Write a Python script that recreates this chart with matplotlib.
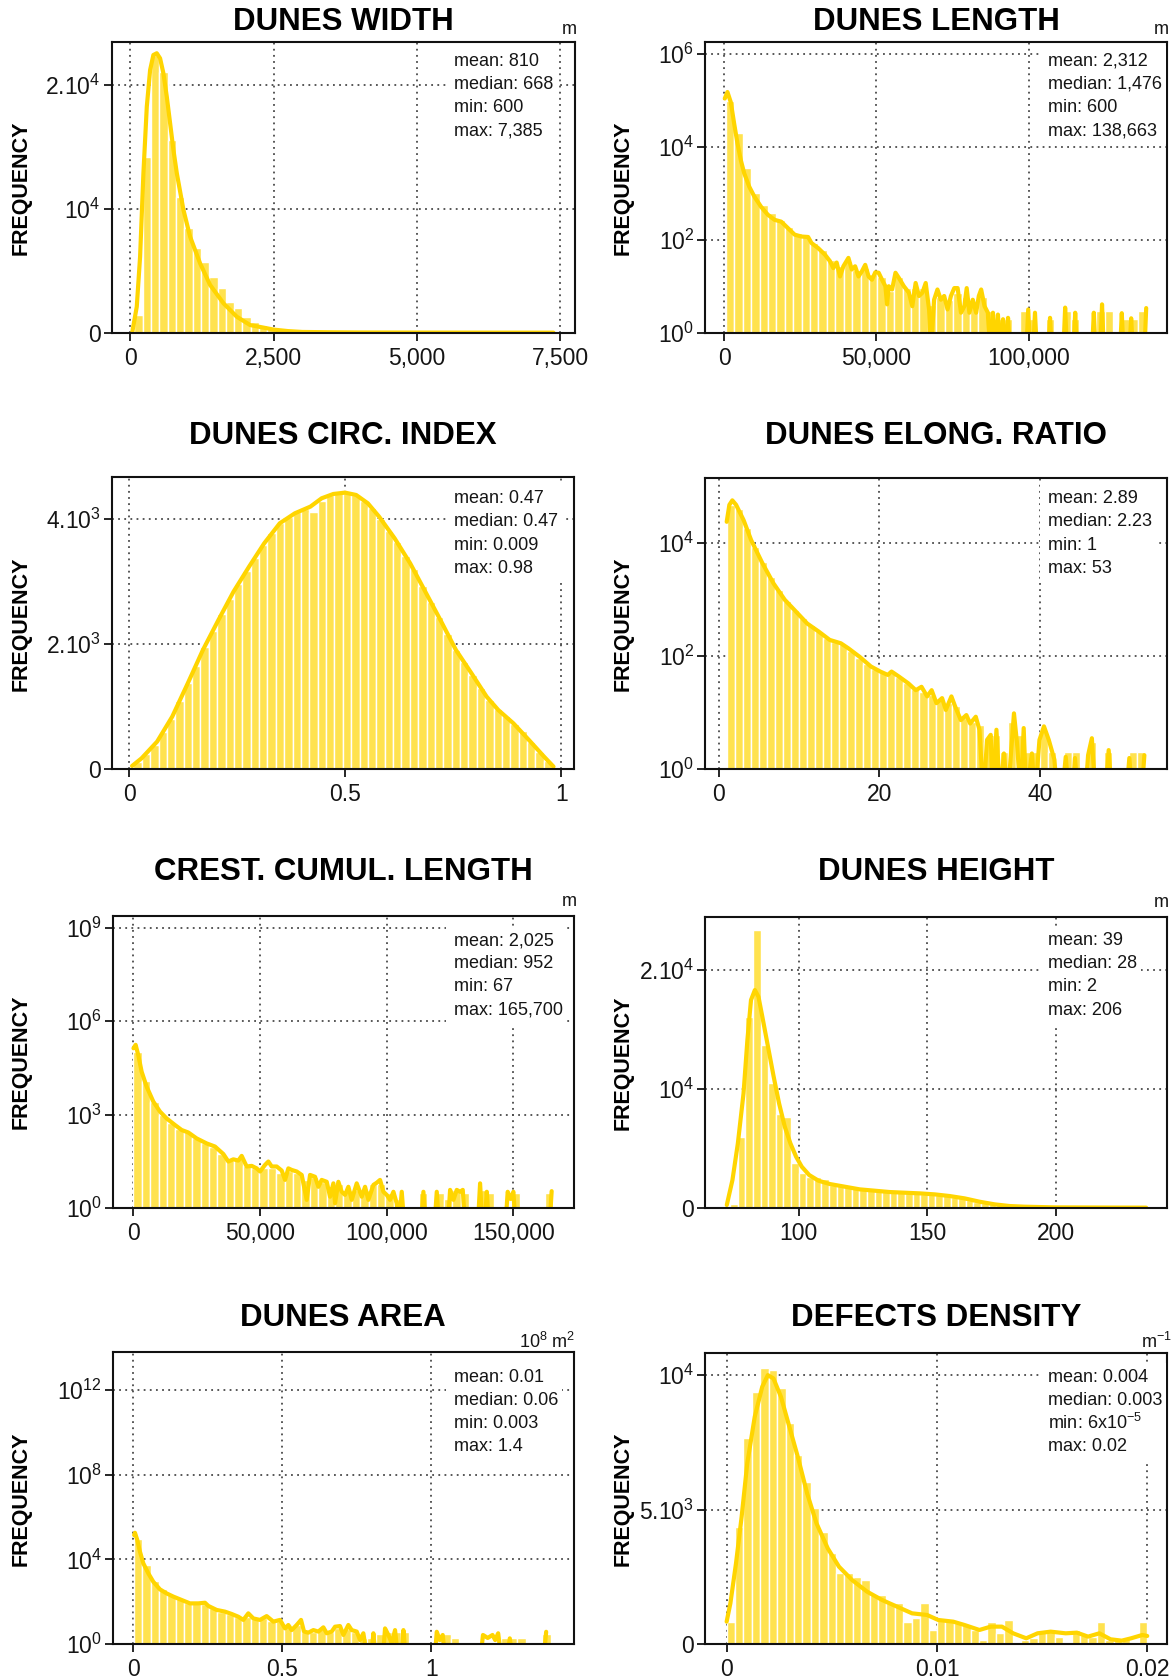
import numpy as np
import matplotlib
matplotlib.use("Agg")
import matplotlib.pyplot as plt
from matplotlib.patches import Rectangle
from matplotlib.ticker import NullLocator

plt.rcParams['font.family'] = ['Liberation Sans', 'DejaVu Sans']
plt.rcParams['mathtext.fontset'] = 'custom'
plt.rcParams['mathtext.rm'] = 'Liberation Sans'
plt.rcParams['mathtext.it'] = 'Liberation Sans:italic'
plt.rcParams['mathtext.bf'] = 'Liberation Sans:bold'

# ---------------- DATA ----------------
# 1. Dunes width (linear)
width_bin_start, width_bin_width = 71, 145
width_counts = [1400, 14230, 22450, 21100, 15580, 11000, 8440, 6820, 5740, 4530,
                3590, 2510, 1970, 1290, 890, 620, 400, 250, 160, 100,
                60, 40, 30, 20, 15, 10, 8, 6, 5, 4, 3, 3, 2, 2, 2, 1, 1, 1, 1, 1,
                1, 1, 1, 0, 1, 0, 1, 0, 0, 0, 1]
width_kde = [(31, 0), (111, 2100), (169, 6140), (227, 12890), (286, 18270), (344, 21240),
             (401, 22450), (460, 22590), (518, 22180), (576, 20970), (635, 19080),
             (693, 16930), (751, 14770), (810, 12890), (926, 9920), (1042, 7760),
             (1216, 5610), (1391, 3860), (1624, 2380), (1857, 1290), (2089, 620),
             (2380, 360), (2500, 250), (2750, 130), (3000, 60), (3500, 35), (4000, 20),
             (5000, 12), (6000, 8), (7385, 5)]

# 2. Dunes length (log)
length_bin_start, length_bin_width = 600, 2761
length_counts = [97000, 20000, 3500, 1000, 560, 370, 270, 190, 140, 118,
                 85, 61, 37, 27, 35, 22, 25, 18, 16, 8,
                 16, 9, 9, 9, 4, 6, 5, 7, 6, 4,
                 6, 3, 2, 2, 1, 3, 2, 0, 2, 0,
                 3, 2, 0, 0, 3, 3, 0, 2, 2, 3]
length_kde_log10 = [(220, 5.04), (1100, 5.18), (2200, 4.96), (3300, 4.5), (4400, 4.07), (5500, 3.71),
                    (6600, 3.43), (8270, 3.14), (9920, 2.93), (12130, 2.71), (14330, 2.54),
                    (16540, 2.43), (18740, 2.39), (20950, 2.25), (23150, 2.11), (25360, 2.07),
                    (27560, 2.06), (28670, 1.93), (30870, 1.82), (33080, 1.68), (34730, 1.54),
                    (35830, 1.39), (36930, 1.51), (38030, 1.21), (39140, 1.43), (40790, 1.61),
                    (41890, 1.36), (42990, 1.43), (44100, 1.21), (45200, 1.32), (46300, 1.46),
                    (47410, 1.21), (48510, 1.14), (49610, 1.30), (50715, 1.29), (51820, 1.14),
                    (52920, 1.0), (53470, 0.61), (54020, 1.0), (55120, 0.93), (56230, 1.29),
                    (57330, 1.18), (58980, 1.0), (60640, 0.86), (61740, 0.57), (62840, 1.07),
                    (63940, 0.79), (65050, 0.86), (66150, 1.07), (67250, 0.5), (67800, -0.5),
                    (68900, 0.71), (70000, 0.93), (71110, 0.71), (72210, 0.79), (73310, 0.5),
                    (74420, 0.79), (75520, 0.96), (76620, 0.96), (77730, 0.43), (78830, 0.57),
                    (79600, 0.96), (80480, 0.43), (81590, 0.71), (82690, 0.43), (83570, 0.79),
                    (84340, 0.93), (85450, 0.57), (86550, 0.43), (87100, -0.5), (88200, 0.43),
                    (89300, -0.5), (89850, 0.39), (90630, -0.5), (91510, 0.29), (92610, -0.5),
                    (93160, 0.32), (93930, -0.5), (99100, -0.5), (99780, 0.5), (100500, -0.5),
                    (101300, -0.5), (102000, 0.43), (102700, -0.5), (106300, -0.5), (106940, 0.32),
                    (107600, -0.5), (111250, -0.5), (111900, 0.54), (112550, -0.5), (114550, -0.5),
                    (115200, 0.43), (115850, -0.5), (120650, -0.5), (121300, 0.43), (121950, -0.5),
                    (123350, -0.5), (124000, 0.61), (124650, -0.5), (129850, -0.5), (130480, 0.42),
                    (131100, -0.5), (132900, -0.5), (133560, 0.31), (134200, -0.5), (137850, -0.5),
                    (138490, 0.53)]

# 3. Dunes circularity index (linear)
circ_bin_start, circ_bin_width = 0.009, 0.0194
circ_counts = [110, 240, 390, 590, 810, 1090, 1376, 1650, 1960, 2220,
               2480, 2720, 2960, 3170, 3380, 3590, 3780, 3940, 4030, 4110,
               4160, 4120, 4300, 4390, 4420, 4430, 4390, 4300, 4180, 4010,
               3820, 3640, 3410, 3200, 2930, 2680, 2430, 2170, 1910, 1710,
               1510, 1300, 1110, 960, 850, 720, 610, 430, 280, 130]
circ_kde = [(0.006, 53), (0.028, 176), (0.064, 443), (0.099, 843), (0.135, 1376), (0.170, 1909),
            (0.206, 2389), (0.241, 2843), (0.277, 3243), (0.312, 3616), (0.348, 3936),
            (0.383, 4096), (0.419, 4203), (0.445, 4336), (0.472, 4405), (0.499, 4427),
            (0.525, 4389), (0.552, 4256), (0.578, 4043), (0.614, 3696), (0.650, 3296),
            (0.685, 2843), (0.720, 2389), (0.756, 1909), (0.792, 1536), (0.827, 1163),
            (0.854, 949), (0.889, 736), (0.925, 469), (0.960, 203), (0.982, 43)]

# 4. Dunes elongation ratio (log)
elong_bin_start, elong_bin_width = 1, 1
elong_counts = [48000, 40000, 19000, 8500, 4600, 2500, 1500, 950, 660, 480,
                360, 280, 215, 180, 165, 125, 95, 72, 59, 52,
                50, 43, 34, 26, 23, 21, 17, 15, 13, 8,
                7, 6, 3, 4, 2, 7, 4, 2, 2, 5,
                2, 1, 2, 2, 1, 3, 1, 2, 1, 1, 2, 2]
elong_kde_log10 = [(1.02, 4.38), (1.35, 4.68), (1.72, 4.76), (2.19, 4.68), (3.12, 4.41), (4.05, 4.06),
                   (5.45, 3.65), (6.84, 3.29), (8.24, 3.0), (9.64, 2.79), (11.03, 2.58),
                   (12.44, 2.44), (13.83, 2.29), (15.22, 2.23), (16.16, 2.14), (17.56, 1.99),
                   (18.95, 1.82), (20.12, 1.73), (21.06, 1.67), (21.52, 1.73), (22.45, 1.64),
                   (23.62, 1.52), (24.54, 1.40), (25.25, 1.46), (25.95, 1.29), (26.51, 1.40),
                   (27.11, 1.17), (27.81, 1.26), (28.27, 1.05), (28.97, 1.29), (29.44, 1.11),
                   (30.14, 0.87), (30.83, 0.96), (31.3, 0.81), (32.0, 0.93), (32.46, 0.70),
                   (32.94, -0.5), (33.4, 0.52), (33.86, 0.61), (34.1, -0.5), (34.57, 0.70),
                   (35.03, -0.5), (35.5, 0.28), (35.97, -0.5), (36.75, 0.99), (37.13, 0.46),
                   (37.59, -0.5), (37.96, 0.73), (38.28, -0.5), (38.98, 0.28), (39.37, -0.5),
                   (39.92, 0.52), (40.48, 0.76), (41.08, 0.52), (41.78, 0.17), (42.16, -0.5),
                   (42.7, -0.5), (43.19, 0.22), (43.6, -0.5), (44.0, -0.5), (44.34, 0.2),
                   (44.7, -0.5), (45.6, -0.5), (45.97, 0.25), (46.44, 0.55), (46.9, -0.5),
                   (48.1, -0.5), (48.53, 0.34), (48.95, -0.5), (50.7, -0.5), (51.1, 0.2),
                   (51.5, -0.5), (52.6, -0.5), (52.97, 0.25)]

# 5. Crest cumulative length (log)
crest_bin_start, crest_bin_width = 67, 3313
crest_counts = [100000, 12000, 2600, 1000, 560, 355, 270, 178, 126, 95,
                56, 35, 40, 22, 19, 20, 20, 14, 16, 14,
                8, 10, 7, 5, 6, 4, 4, 4, 6, 6,
                3, 2, 1, 1, 3, 1, 3, 2, 4, 3,
                1, 4, 3, 1, 1, 3, 1, 1, 1, 3]
crest_kde_log10 = [(67, 5.13), (920, 5.24), (1970, 4.91), (3290, 4.38), (5260, 3.90), (7900, 3.42),
                   (10530, 3.10), (13160, 2.88), (16450, 2.67), (19080, 2.51), (21710, 2.43),
                   (25000, 2.24), (28950, 2.08), (32240, 1.98), (35530, 1.74), (37500, 1.50),
                   (39480, 1.57), (41450, 1.53), (42770, 1.68), (44740, 1.34), (46720, 1.36),
                   (48690, 1.28), (50010, 1.18), (51980, 1.39), (53300, 1.50), (54620, 1.34),
                   (56590, 1.34), (58560, 1.21), (59880, 0.91), (61190, 1.28), (62510, 1.23),
                   (64480, 1.18), (66460, 1.07), (68430, 0.27), (69750, 1.07), (71720, 1.01),
                   (73040, 0.69), (74350, 0.91), (76330, 0.85), (77640, 0.37), (78960, 0.80),
                   (79620, 0.16), (80930, 0.85), (82250, 0.53), (83570, 0.43), (84880, 0.69),
                   (86200, 0.27), (88170, 0.80), (90150, 0.37), (91460, 0.69), (92780, 0.27),
                   (94750, 0.75), (96070, 0.82), (97380, 0.91), (98700, 0.53), (100000, 0.43),
                   (101330, 0.27), (102650, 0.53), (103960, 0.16), (104900, -0.5), (105940, 0.53),
                   (106900, -0.5), (113600, -0.5), (114490, 0.53), (115400, -0.5), (118900, -0.5),
                   (119760, 0.53), (120600, -0.5), (124200, -0.5), (125020, 0.59), (126340, 0.27),
                   (127650, 0.59), (128970, 0.53), (130020, 0.59), (130900, -0.5), (136000, -0.5),
                   (136860, 0.80), (137700, -0.5), (138700, -0.5), (139500, 0.53), (140300, -0.5),
                   (146900, -0.5), (147750, 0.53), (148900, 0.3), (150000, 0.53), (150800, -0.5),
                   (164300, -0.5), (165100, 0.55)]

# 6. Dunes height (linear)
height_bin_start, height_bin_width = 73.45, 2.95
height_counts = [300, 5966, 16050, 23330, 13670, 10500, 7870, 7590, 3780, 2885,
                 2600, 2550, 2380, 1900, 1820, 1765, 1710, 1540, 1480, 1430,
                 1480, 1320, 1340, 1260, 1200, 1150, 1120, 1060, 1060, 920,
                 780, 640, 500, 360, 280, 200, 140, 110, 85, 60,
                 45, 35, 28, 22, 18, 15, 12, 10, 8, 7, 6, 5, 5, 4, 3]
height_kde = [(72.1, 224), (74.3, 2325), (76.4, 5406), (78.6, 9607), (80.1, 14090), (81.5, 17450),
              (83.0, 18290), (84.4, 17730), (85.9, 16050), (88.1, 13530), (90.3, 11010),
              (92.4, 8767), (94.6, 6806), (96.8, 5406), (99.0, 4286), (101.2, 3445),
              (104.1, 2745), (107.7, 2269), (112.1, 1989), (117.9, 1765), (123.7, 1541),
              (129.5, 1429), (135.3, 1317), (141.1, 1260), (147.0, 1204), (152.8, 1120),
              (158.6, 980), (164.4, 784), (170.2, 504), (176.1, 280), (181.9, 140),
              (187.7, 84), (199.3, 28), (222.6, 10), (234.9, 5)]

# 7. Dunes area (log)
area_bin_start, area_bin_width = 0.003, 0.02794
area_counts = [89000, 5600, 1000, 400, 214, 141, 93, 85, 79, 50,
               35, 28, 20, 20, 16, 18, 13, 13, 7, 8,
               4, 4, 5, 4, 6, 5, 4, 2, 2, 3,
               4, 4, 4, 1, 1, 1, 1, 3, 2, 1,
               1, 1, 1, 1, 2, 2, 2, 1, 1, 3]
area_kde_log10 = [(0.003, 5.15), (0.0056, 5.26), (0.0134, 4.92), (0.0224, 4.37), (0.0336, 3.82),
                  (0.0503, 3.35), (0.0671, 2.95), (0.0895, 2.59), (0.1119, 2.40), (0.1342, 2.25),
                  (0.1622, 2.09), (0.1902, 1.93), (0.2181, 1.93), (0.2405, 1.96), (0.2517, 1.81),
                  (0.2797, 1.62), (0.3076, 1.54), (0.3300, 1.43), (0.3524, 1.30), (0.3691, 1.15),
                  (0.3859, 1.46), (0.4027, 1.22), (0.4251, 1.15), (0.4474, 1.33), (0.4698, 1.07),
                  (0.4922, 1.15), (0.5090, 0.75), (0.5201, 0.91), (0.5313, 0.67), (0.5481, 0.91),
                  (0.5627, 1.15), (0.5727, 0.60), (0.5873, 0.55), (0.6040, 0.67), (0.6208, 0.60),
                  (0.6376, 0.80), (0.6488, 0.52), (0.6656, 0.60), (0.6768, 0.83), (0.6935, 0.86),
                  (0.7047, 0.44), (0.7215, 0.91), (0.7327, 0.67), (0.7495, 0.60), (0.7606, 0.20),
                  (0.7718, 0.52), (0.7830, -0.5), (0.7990, -0.5), (0.8054, 0.52), (0.8120, -0.5),
                  (0.8380, -0.5), (0.8445, 0.75), (0.8557, 0.44), (0.8669, 0.05), (0.8781, 0.67),
                  (0.8870, -0.5), (0.9000, -0.5), (0.9061, 0.67), (0.9130, -0.5), (1.0120, -0.5),
                  (1.0180, 0.59), (1.0280, 0.2), (1.0380, 0.44), (1.0450, -0.5), (1.1660, -0.5),
                  (1.1730, 0.44), (1.1890, 0.3), (1.2050, 0.44), (1.2140, 0.2), (1.2240, 0.52),
                  (1.2330, -0.5), (1.2560, -0.5), (1.2630, 0.28), (1.2700, -0.5), (1.3780, -0.5),
                  (1.3850, 0.59)]

# 8. Defects density (linear)
defects_bin_start, defects_bin_width = 0.0, 0.0004
defects_counts = [841, 4367, 7645, 9376, 10242, 10181, 9500, 8201, 7026, 6037,
                  5047, 4181, 3377, 2635, 2635, 2511, 2387, 1831, 1831, 1522,
                  1522, 841, 965, 1522, 532, 903, 903, 779, 717, 532,
                  161, 841, 408, 903, 37, 161, 223, 470, 470, 285,
                  99, 532, 346, 285, 841, 161, 223, 223, 99, 841]
defects_kde = [(0.0, 841), (0.000178, 1522), (0.000445, 3006), (0.000713, 4738), (0.000980, 6717),
               (0.001336, 8449), (0.001692, 9562), (0.001959, 9995), (0.002226, 9871),
               (0.002582, 9191), (0.002938, 8201), (0.003383, 6964), (0.003828, 5604),
               (0.004273, 4490), (0.004807, 3563), (0.005342, 2882), (0.005966, 2387),
               (0.006680, 1954), (0.007391, 1645), (0.008103, 1398), (0.008816, 1150),
               (0.009529, 1089), (0.010062, 903), (0.010775, 841), (0.011308, 717),
               (0.012021, 532), (0.012555, 656), (0.013091, 656), (0.013623, 408),
               (0.014246, 223), (0.014784, 408), (0.015407, 470), (0.016120, 408),
               (0.016653, 433), (0.017185, 285), (0.017722, 408), (0.018255, 186),
               (0.018788, 136), (0.019234, 223), (0.019767, 346), (0.020000, 309)]

titles = ["DUNES WIDTH", "DUNES LENGTH", "DUNES CIRC. INDEX", "DUNES ELONG. RATIO",
          "CREST. CUMUL. LENGTH", "DUNES HEIGHT", "DUNES AREA", "DEFECTS DENSITY"]
units = ["m", "m", "", "", "m", "m", r"$\mathregular{10^8\ m^2}$", r"$\mathregular{m^{-1}}$"]
stats = [
    ["mean: 810", "median: 668", "min: 600", "max: 7,385"],
    ["mean: 2,312", "median: 1,476", "min: 600", "max: 138,663"],
    ["mean: 0.47", "median: 0.47", "min: 0.009", "max: 0.98"],
    ["mean: 2.89", "median: 2.23", "min: 1", "max: 53"],
    ["mean: 2,025", "median: 952", "min: 67", "max: 165,700"],
    ["mean: 39", "median: 28", "min: 2", "max: 206"],
    ["mean: 0.01", "median: 0.06", "min: 0.003", "max: 1.4"],
    ["mean: 0.004", "median: 0.003", r"min: $\mathregular{6x10^{-5}}$", "max: 0.02"],
]
xticks = [[0, 2500, 5000, 7500], [0, 50000, 100000], [0, 0.5, 1], [0, 20, 40],
          [0, 50000, 100000, 150000], [100, 150, 200], [0, 0.5, 1], [0, 0.01, 0.02]]
xticklabels = [["0", "2,500", "5,000", "7,500"], ["0", "50,000", "100,000"], ["0", "0.5", "1"],
               ["0", "20", "40"], ["0", "50,000", "100,000", "150,000"], ["100", "150", "200"],
               ["0", "0.5", "1"], ["0", "0.01", "0.02"]]
yticks = [[0, 1e4, 2e4], [1, 1e2, 1e4, 1e6], [0, 2e3, 4e3], [1, 1e2, 1e4],
          [1, 1e3, 1e6, 1e9], [0, 1e4, 2e4], [1, 1e4, 1e8, 1e12], [0, 5e3, 1e4]]
yticklabels = [["0", r"$\mathregular{10^4}$", r"$\mathregular{2.10^4}$"],
               [r"$\mathregular{10^0}$", r"$\mathregular{10^2}$", r"$\mathregular{10^4}$", r"$\mathregular{10^6}$"],
               ["0", r"$\mathregular{2.10^3}$", r"$\mathregular{4.10^3}$"],
               [r"$\mathregular{10^0}$", r"$\mathregular{10^2}$", r"$\mathregular{10^4}$"],
               [r"$\mathregular{10^0}$", r"$\mathregular{10^3}$", r"$\mathregular{10^6}$", r"$\mathregular{10^9}$"],
               ["0", r"$\mathregular{10^4}$", r"$\mathregular{2.10^4}$"],
               [r"$\mathregular{10^0}$", r"$\mathregular{10^4}$", r"$\mathregular{10^8}$", r"$\mathregular{10^{12}}$"],
               ["0", r"$\mathregular{5.10^3}$", r"$\mathregular{10^4}$"]]

# ---------------- LAYOUT / STYLE ----------------
W, H = 1176, 1678
BAR = "#FFE24F"
LINE = "#FFD500"
GRID = "#4a4a4a"
TXT = "#151515"

fig = plt.figure(figsize=(W / 100, H / 100), dpi=100)
fig.patch.set_facecolor("white")

boxes = [(111.5, 42.3, 575.0, 332.7), (705.4, 42.3, 1166.8, 332.7),
         (112.3, 477.3, 573.6, 769.3), (705.4, 478.3, 1166.8, 769.3),
         (113.0, 916.0, 573.6, 1208.3), (705.4, 917.3, 1166.8, 1207.7),
         (113.0, 1352.3, 573.6, 1644.3), (705.4, 1352.7, 1166.8, 1644.3)]
xlims = [(-330, 7760), (-6135, 145250), (-0.0398, 1.0285), (-1.63, 55.76),
         (-8011, 173760), (63.8, 242.9), (-0.068, 1.477), (-0.00101, 0.02093)]
ylims = [(0, 23476), (1, 10 ** 6.25), (0, 4672), (1, 10 ** 5.15),
         (1, 10 ** 9.37), (0, 24403), (1, 10 ** 13.77), (0, 10828)]
title_y = [21.7, 21.7, 436, 436, 872.5, 872.5, 1317.5, 1317.5]
stats_x = [454, 1047.7] * 4
stats_y0 = [61.0, 61.0, 498.6, 498.6, 940.5, 940.5, 1377.0, 1377.0]
stats_pitch = 23.2
unit_pos = [(569, 29.3, 'center'), (1161, 29.3, 'center'), None, None,
            (569, 901.7, 'center'), (1161, 902.7, 'center'),
            (575, 1341.7, 'right'), (1172, 1341.7, 'right')]
freq_x = [21, 623]

panels = [
    (width_bin_start, width_bin_width, width_counts, width_kde, False),
    (length_bin_start, length_bin_width, length_counts, length_kde_log10, True),
    (circ_bin_start, circ_bin_width, circ_counts, circ_kde, False),
    (elong_bin_start, elong_bin_width, elong_counts, elong_kde_log10, True),
    (crest_bin_start, crest_bin_width, crest_counts, crest_kde_log10, True),
    (height_bin_start, height_bin_width, height_counts, height_kde, False),
    (area_bin_start, area_bin_width, area_counts, area_kde_log10, True),
    (defects_bin_start, defects_bin_width, defects_counts, defects_kde, False),
]


def fx(px):
    return px / W


def fy(py):
    return 1 - py / H


axes_list = []
stat_texts = []
for i, (start, bw, counts, kde, is_log) in enumerate(panels):
    l, t, r, b = boxes[i]
    ax = fig.add_axes([fx(l), fy(b), (r - l) / W, (b - t) / H])
    axes_list.append(ax)
    counts = np.asarray(counts, dtype=float)
    lefts = start + bw * np.arange(len(counts))
    kx = np.array([p[0] for p in kde], dtype=float)
    ky = np.array([p[1] for p in kde], dtype=float)
    if is_log:
        ax.set_yscale('log')
        base = 1e-3
        ax.bar(lefts, np.maximum(counts - base, 0), width=bw, bottom=base, align='edge',
               color=BAR, edgecolor='white', linewidth=1.0, zorder=1)
        ax.plot(kx, 10 ** ky, color=LINE, linewidth=3.0, solid_joinstyle='round',
                solid_capstyle='round', zorder=2)
        ax.yaxis.set_minor_locator(NullLocator())
    else:
        ax.bar(lefts, counts, width=bw, align='edge', color=BAR, edgecolor='white',
               linewidth=1.0, zorder=1)
        ax.plot(kx, ky, color=LINE, linewidth=3.0, solid_joinstyle='round',
                solid_capstyle='round', zorder=2)
    ax.set_xlim(*xlims[i])
    ax.set_ylim(*ylims[i])
    ax.set_xticks(xticks[i])
    ax.set_xticklabels(xticklabels[i])
    ax.set_yticks(yticks[i])
    ax.set_yticklabels(yticklabels[i])
    ax.xaxis.set_minor_locator(NullLocator())
    ax.grid(True, which='major', color=GRID, linestyle=(0, (1, 2.4)), linewidth=1.3)
    ax.set_axisbelow(True)
    for sp in ax.spines.values():
        sp.set_linewidth(1.5)
        sp.set_color('#111111')
    ax.tick_params(axis='both', which='major', direction='out', length=6, width=1.3,
                   labelsize=16.5, colors=TXT)
    ax.tick_params(axis='y', pad=2)
    ax.tick_params(axis='x', pad=4)

    # title
    fig.text(fx((l + r) / 2), fy(title_y[i]), titles[i], ha='center', va='center',
             fontsize=22.5, fontweight='bold', color='black')
    # frequency label
    fig.text(fx(freq_x[i % 2]), fy((t + b) / 2), "FREQUENCY", rotation=90, ha='center',
             va='center', fontsize=15.5, fontweight='bold', color='black')
    # unit
    if unit_pos[i] is not None:
        ux, uy, uha = unit_pos[i]
        fig.text(fx(ux), fy(uy), units[i], ha=uha, va='center', fontsize=13, color=TXT)
    # stats
    txts = []
    for k, s in enumerate(stats[i]):
        tt = ax.text(fx(stats_x[i]), fy(stats_y0[i] + stats_pitch * k), s, transform=fig.transFigure,
                     ha='left', va='center', fontsize=13, color=TXT, zorder=5,
                     clip_on=False)
        txts.append(tt)
    stat_texts.append(txts)

fig.canvas.draw()
renderer = fig.canvas.get_renderer()
for ax, txts in zip(axes_list, stat_texts):
    exts = [t.get_window_extent(renderer) for t in txts]
    x0 = min(e.x0 for e in exts) - 8
    x1 = max(e.x1 for e in exts) + 4
    y0 = min(e.y0 for e in exts) - 5
    y1 = max(e.y1 for e in exts) + 6
    rect = Rectangle((x0 / W, y0 / H), (x1 - x0) / W, (y1 - y0) / H,
                     transform=fig.transFigure, facecolor='white', edgecolor='none', zorder=3)
    ax.add_patch(rect)

fig.savefig("out.png", dpi=100, facecolor='white')
